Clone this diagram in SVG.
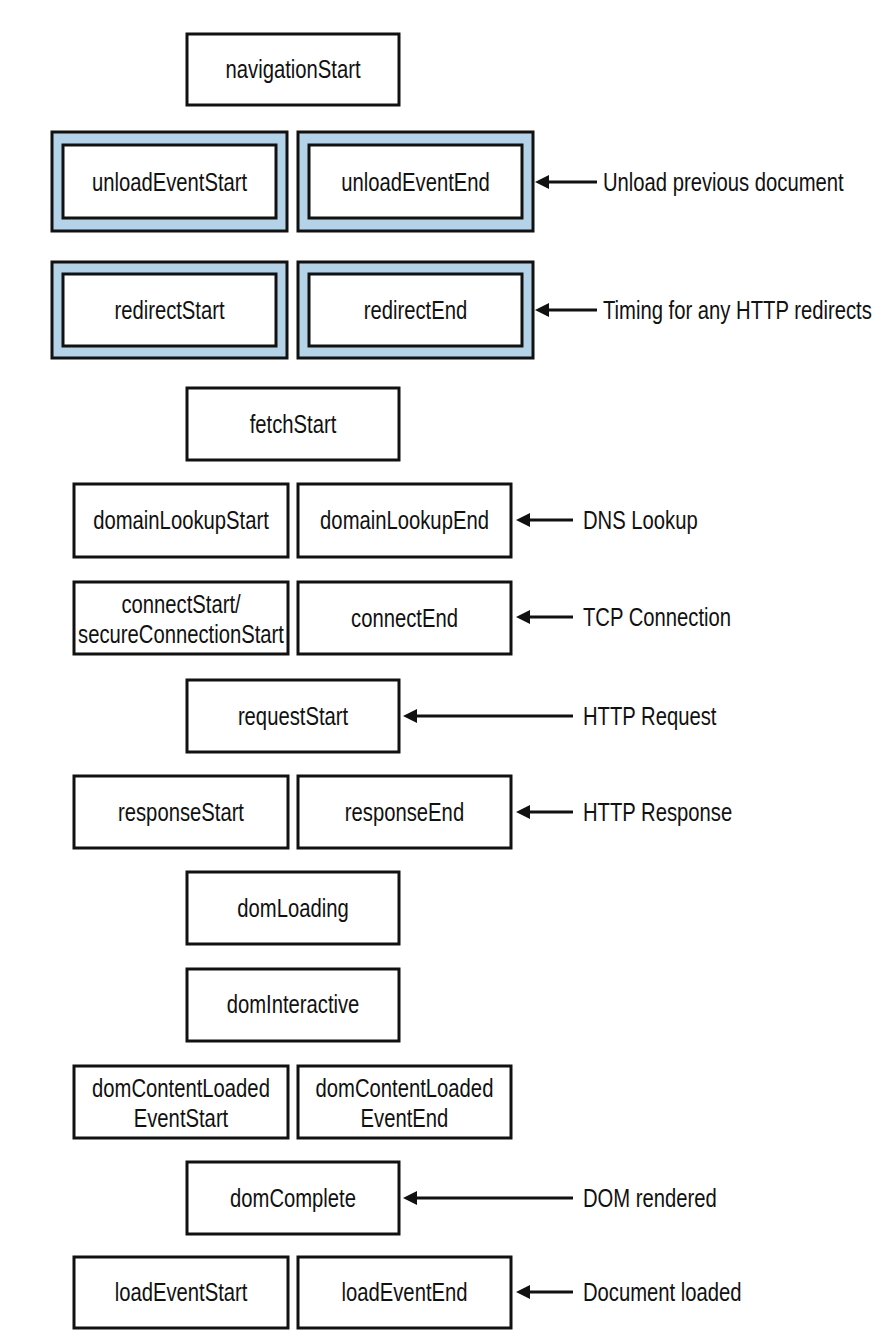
<svg xmlns="http://www.w3.org/2000/svg" width="896" height="1342" viewBox="0 0 896 1342">
<defs>
<style>
.b{fill:#fff;stroke:#111;stroke-width:3}
.o{fill:#b5d3e8;stroke:#111;stroke-width:3}
text{font-family:"Liberation Sans",Arial,sans-serif;font-size:25px;fill:#111}
.c{text-anchor:middle}
.l{text-anchor:start}
.a{stroke:#111;stroke-width:3;fill:none;marker-end:url(#ah)}
</style>
<marker id="ah" viewBox="0 0 14 14" refX="4" refY="7" markerWidth="14" markerHeight="14" markerUnits="userSpaceOnUse" orient="auto">
<path d="M0,0 L14,7 L0,14 z" fill="#111"/>
</marker>
</defs>
<rect width="896" height="1342" fill="#fff"/>

<g id="navigationStart"><rect class="b" x="187" y="34" width="212" height="71"/><text class="c" transform="translate(293,78) scale(0.81,1)">navigationStart</text></g>

<g id="unloadEventStart"><rect class="o" x="52" y="132" width="235" height="99"/><rect class="b" x="63" y="145" width="213" height="73"/><text class="c" transform="translate(169.5,191) scale(0.81,1)">unloadEventStart</text></g>
<g id="unloadEventEnd"><rect class="o" x="298" y="132" width="235" height="99"/><rect class="b" x="309" y="145" width="213" height="73"/><text class="c" transform="translate(415.5,191) scale(0.81,1)">unloadEventEnd</text></g>

<g id="redirectStart"><rect class="o" x="52" y="262" width="235" height="96"/><rect class="b" x="63" y="274" width="213" height="72"/><text class="c" transform="translate(169.5,319) scale(0.81,1)">redirectStart</text></g>
<g id="redirectEnd"><rect class="o" x="298" y="262" width="235" height="96"/><rect class="b" x="309" y="274" width="213" height="72"/><text class="c" transform="translate(415.5,319) scale(0.81,1)">redirectEnd</text></g>

<g id="fetchStart"><rect class="b" x="187" y="388" width="212" height="72"/><text class="c" transform="translate(293,433) scale(0.81,1)">fetchStart</text></g>

<g id="domainLookupStart"><rect class="b" x="74" y="484" width="214" height="73"/><text class="c" transform="translate(181,529) scale(0.81,1)">domainLookupStart</text></g>
<g id="domainLookupEnd"><rect class="b" x="298" y="484" width="213" height="73"/><text class="c" transform="translate(404.5,529) scale(0.81,1)">domainLookupEnd</text></g>

<g id="connectStart"><rect class="b" x="74" y="582" width="214" height="72"/><text class="c" transform="translate(181,613) scale(0.81,1)">connectStart/</text><text class="c" transform="translate(181,643) scale(0.81,1)">secureConnectionStart</text></g>
<g id="connectEnd"><rect class="b" x="298" y="582" width="213" height="72"/><text class="c" transform="translate(404.5,627) scale(0.81,1)">connectEnd</text></g>

<g id="requestStart"><rect class="b" x="187" y="680" width="212" height="72"/><text class="c" transform="translate(293,725) scale(0.81,1)">requestStart</text></g>

<g id="responseStart"><rect class="b" x="74" y="776" width="214" height="72"/><text class="c" transform="translate(181,821) scale(0.81,1)">responseStart</text></g>
<g id="responseEnd"><rect class="b" x="298" y="776" width="213" height="72"/><text class="c" transform="translate(404.5,821) scale(0.81,1)">responseEnd</text></g>

<g id="domLoading"><rect class="b" x="187" y="872" width="212" height="72"/><text class="c" transform="translate(293,917) scale(0.81,1)">domLoading</text></g>

<g id="domInteractive"><rect class="b" x="187" y="969" width="212" height="72"/><text class="c" transform="translate(293,1013) scale(0.81,1)">domInteractive</text></g>

<g id="domContentLoadedEventStart"><rect class="b" x="74" y="1066" width="214" height="72"/><text class="c" transform="translate(181,1097) scale(0.81,1)">domContentLoaded</text><text class="c" transform="translate(181,1127) scale(0.81,1)">EventStart</text></g>
<g id="domContentLoadedEventEnd"><rect class="b" x="298" y="1066" width="213" height="72"/><text class="c" transform="translate(404.5,1097) scale(0.81,1)">domContentLoaded</text><text class="c" transform="translate(404.5,1127) scale(0.81,1)">EventEnd</text></g>

<g id="domComplete"><rect class="b" x="187" y="1162" width="212" height="72"/><text class="c" transform="translate(293,1207) scale(0.81,1)">domComplete</text></g>

<g id="loadEventStart"><rect class="b" x="74" y="1257" width="214" height="71"/><text class="c" transform="translate(181,1301) scale(0.81,1)">loadEventStart</text></g>
<g id="loadEventEnd"><rect class="b" x="298" y="1257" width="213" height="71"/><text class="c" transform="translate(404.5,1301) scale(0.81,1)">loadEventEnd</text></g>

<g id="connectors">
<line class="a" x1="597" y1="182" x2="545" y2="182"/>
<line class="a" x1="597" y1="310" x2="545" y2="310"/>
<line class="a" x1="573" y1="520" x2="526" y2="520"/>
<line class="a" x1="573" y1="617" x2="526" y2="617"/>
<line class="a" x1="573" y1="716" x2="413" y2="716"/>
<line class="a" x1="573" y1="812" x2="526" y2="812"/>
<line class="a" x1="573" y1="1198" x2="413" y2="1198"/>
<line class="a" x1="573" y1="1292" x2="526" y2="1292"/>
</g>

<g id="labels">
<text class="l" transform="translate(603,191) scale(0.81,1)">Unload previous document</text>
<text class="l" transform="translate(603,319) scale(0.81,1)">Timing for any HTTP redirects</text>
<text class="l" transform="translate(583,529) scale(0.81,1)">DNS Lookup</text>
<text class="l" transform="translate(583,626) scale(0.81,1)">TCP Connection</text>
<text class="l" transform="translate(583,725) scale(0.81,1)">HTTP Request</text>
<text class="l" transform="translate(583,821) scale(0.81,1)">HTTP Response</text>
<text class="l" transform="translate(583,1207) scale(0.81,1)">DOM rendered</text>
<text class="l" transform="translate(583,1301) scale(0.81,1)">Document loaded</text>
</g>
</svg>
